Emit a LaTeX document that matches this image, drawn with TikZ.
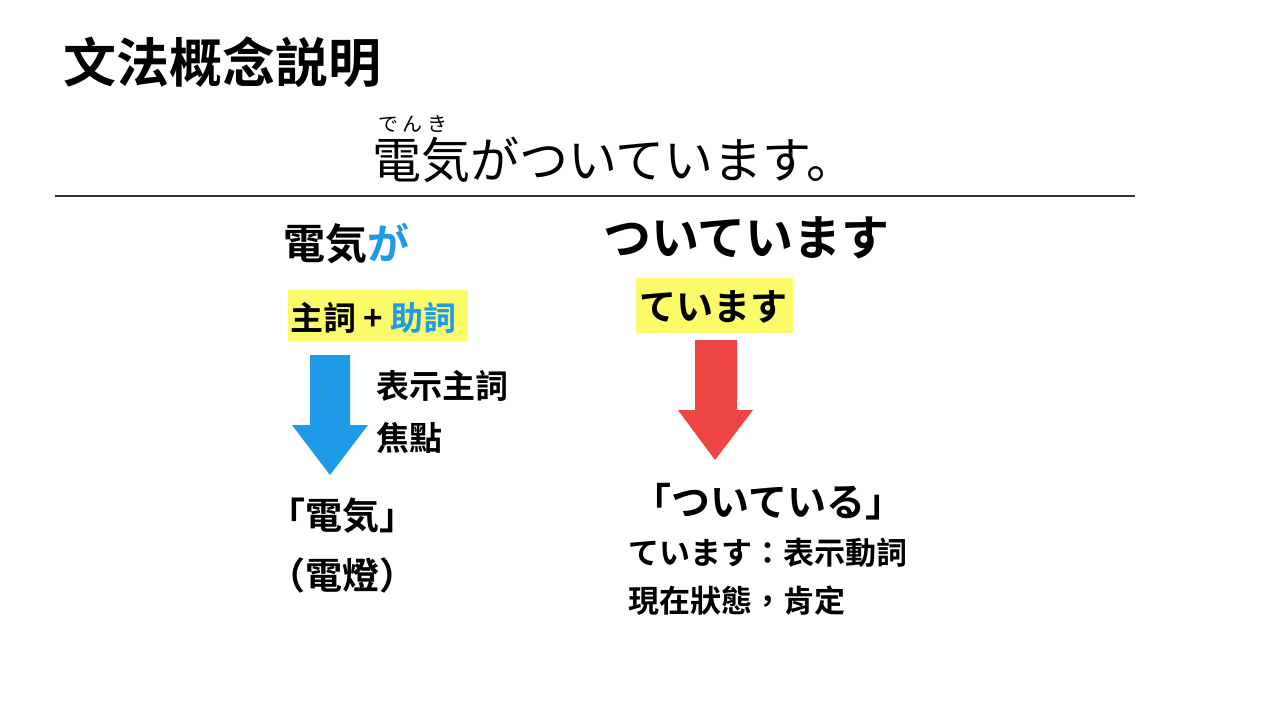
\documentclass[tikz,border=0pt]{standalone}
\usepackage{fontspec}
\setmainfont{Noto Sans CJK TC}
\newfontfamily\jpb{Noto Sans CJK TC Bold}
\newfontfamily\jpr{Noto Sans CJK JP}
\definecolor{myblue}{HTML}{1E9BE8}
\definecolor{myred}{HTML}{EE4444}
\definecolor{myyel}{HTML}{FCFB6A}
\begin{document}
\begin{tikzpicture}[x=1pt,y=-1pt,
  txt/.style={anchor=west,inner sep=0pt,font=\jpb}]
\useasboundingbox[fill=white] (0,0) rectangle (1280,720);
\node[txt,font=\jpb\fontsize{53}{53}\selectfont] (title) at (63,62) {文法概念説明};
\node[txt,font=\jpr\fontsize{20}{20}\selectfont] (furi) at (378,124) {で ん き};
\node[txt,font=\jpr\fontsize{49}{49}\selectfont] (sent) at (372,160) {電気がついています。};
\draw[line width=1.5pt,black!80] (55,196) -- (1135,196);
\node[txt,font=\jpb\fontsize{42}{42}\selectfont] (dk) at (283,244) {電気\textcolor{myblue}{が}};
\fill[myyel] (288,290) rectangle (468,341);
\node[txt,font=\jpb\fontsize{33}{33}\selectfont] (sj) at (290,318) {主詞 + \textcolor{myblue}{助詞}};
\fill[myblue] (310,355) -- (350,355) -- (350,425) -- (368,425) -- (330,475) -- (292,425) -- (310,425) -- cycle;
\node[txt,font=\jpb\fontsize{33}{33}\selectfont] (a1) at (376,386) {表示主詞};
\node[txt,font=\jpb\fontsize{33}{33}\selectfont] (a2) at (376,438) {焦點};
\node[txt,font=\jpb\fontsize{37}{37}\selectfont] (b1) at (268,516) {「電気」};
\node[txt,font=\jpb\fontsize{37}{37}\selectfont] (b2) at (268,575) {（電燈）};
\node[txt,font=\jpb\fontsize{48}{48}\selectfont] (tt) at (603,238) {ついています};
\fill[myyel] (636,278) rectangle (793,333);
\node[txt,font=\jpb\fontsize{37}{37}\selectfont] (tm) at (639,307) {ています};
\fill[myred] (695,340) -- (737,340) -- (737,410) -- (753,410) -- (715,460) -- (678,410) -- (695,410) -- cycle;
\node[txt,font=\jpb\fontsize{39}{39}\selectfont] (ti) at (632,502) {「ついている」};
\node[txt,font=\jpb\fontsize{31}{31}\selectfont] (c1) at (628,553) {ています：表示動詞};
\node[txt,font=\jpb\fontsize{31}{31}\selectfont] (c2) at (628,601) {現在狀態，肯定};
\end{tikzpicture}
\end{document}
